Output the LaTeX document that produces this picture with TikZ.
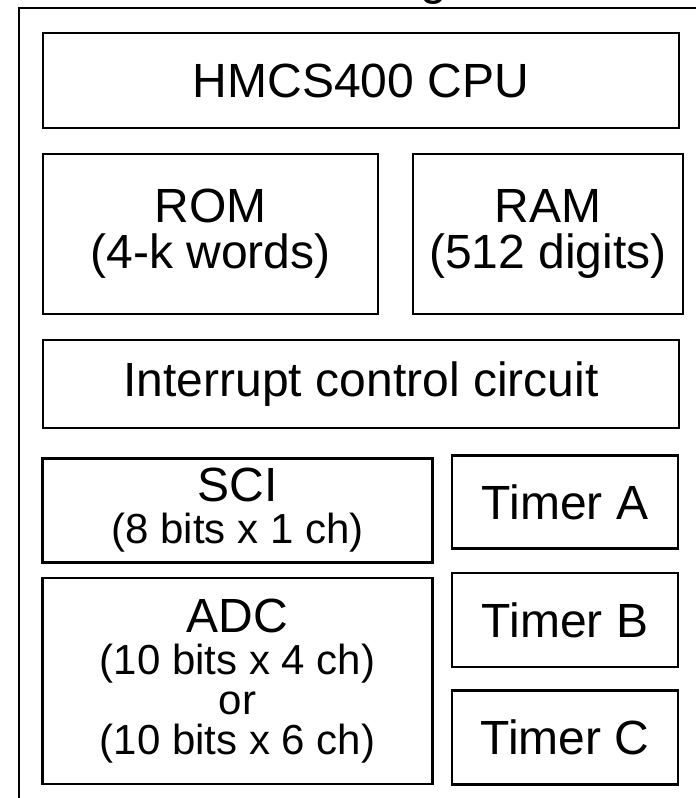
\documentclass[tikz,border=0pt]{standalone}
\usepackage{fontspec}
\setmainfont{Liberation Sans}
\newcommand{\bigf}{\fontsize{48}{34}\selectfont}
\AtBeginDocument{\lineskiplimit=-100pt\relax}
\begin{document}
\begin{tikzpicture}[x=1pt,y=-1pt,
  blk/.style={draw, line width=2.4pt, rectangle, inner sep=0pt, align=center,
    font=\fontsize{48}{46}\selectfont},
  small/.style={font=\fontsize{42}{34}\selectfont},
  smallwide/.style={font=\fontsize{42}{40}\selectfont},
  frame/.style={draw, line width=2pt}]
\useasboundingbox (0,0) rectangle (696,798);
% outer frame (continues beyond the page)
\coordinate (fr) at (720,8);
\coordinate (ftl) at (19,8);
\coordinate (fb) at (19,820);
\draw[frame] (fr) -- (ftl) -- (fb);
% title letter cut off at top
\node[font=\fontsize{48}{48}\selectfont, anchor=base, inner sep=0pt] (ttl) at (434,-6) {g};
% blocks
\node[blk, minimum width=636pt, minimum height=95pt] (cpu) at (361,80.5) {HMCS400 CPU};
\node[blk, minimum width=335pt, minimum height=160pt] (rom) at (210.5,234) {ROM\\(4-k words)};
\node[blk, minimum width=270pt, minimum height=160pt] (ram) at (548,234) {RAM\\(512 digits)};
\node[blk, minimum width=636pt, minimum height=88pt] (int) at (361,384) {Interrupt control circuit};
\node[blk, small, minimum width=390pt, minimum height=104pt] (sci) at (237.5,510.5)
  {{\bigf SCI}\\[8pt](8 bits x 1 ch)};
\node[blk, minimum width=226pt, minimum height=93pt] (ta) at (565,502) {Timer A};
\node[blk, smallwide, minimum width=390pt, minimum height=206pt] (adc) at (237.5,681)
  {{\bigf ADC}\\[2pt](10 bits x 4 ch)\\or\\(10 bits x 6 ch)};
\node[blk, minimum width=226pt, minimum height=94pt] (tb) at (565,620) {Timer B};
\node[blk, minimum width=226pt, minimum height=94pt] (tc) at (565,737.5) {Timer C};
\end{tikzpicture}
\end{document}
